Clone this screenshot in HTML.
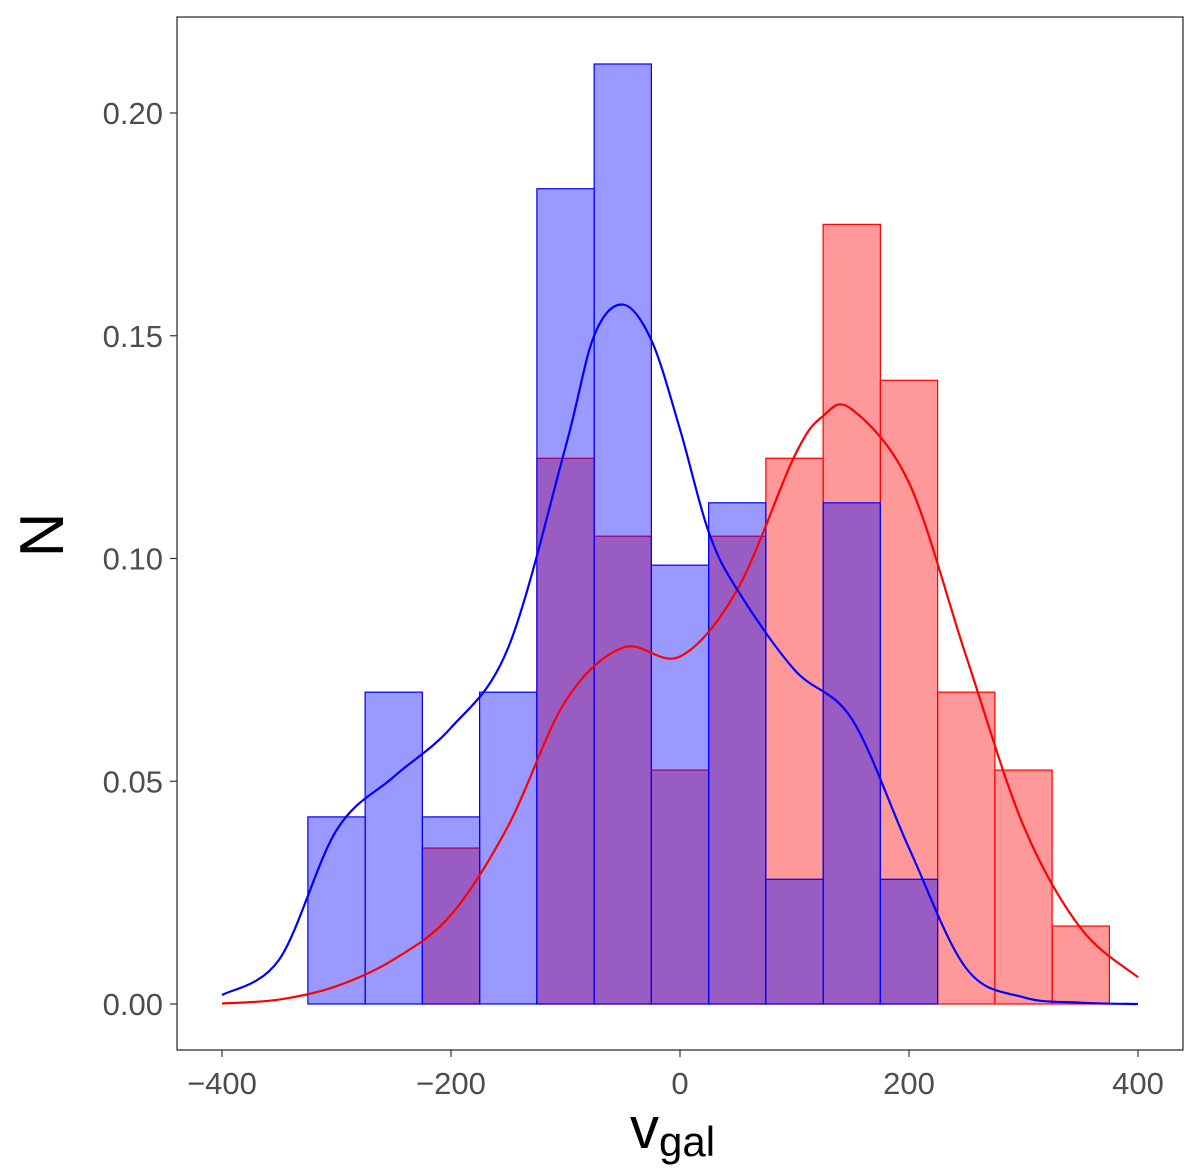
<!DOCTYPE html>
<html><head><meta charset="utf-8"><style>
body{margin:0;background:#fff;}
svg{display:block;font-family:"Liberation Sans",sans-serif;}
</style></head><body>
<svg id="chart" width="1200" height="1172" viewBox="0 0 1200 1172">
<rect x="177" y="17" width="1006" height="1033" fill="#fff" stroke="#222" stroke-width="1.2"/>
<g id="bars"></g><g id="curves"></g><g id="axes"></g>
<text transform="translate(63,535) rotate(-90)" text-anchor="middle" font-size="62">N</text>
<text x="630" y="1148" font-size="58">v<tspan font-size="42" dy="8">gal</tspan></text>
</svg>
<script>
const binCenters=[-300,-250,-200,-150,-100,-50,0,50,100,150,200,250,300,350];
const blueVals=[0.042,0.070,0.042,0.070,0.183,0.211,0.0985,0.1125,0.028,0.1125,0.028,0,0,0];
const redVals=[0,0,0.035,0,0.1225,0.105,0.0525,0.105,0.1225,0.175,0.140,0.070,0.0525,0.0175];
const blueDensX=[-400,-350,-300,-250,-200,-150,-100,-75,-50,-25,0,25,50,100,150,200,250,300,350,400];
const blueDensY=[0.002,0.010,0.039,0.051,0.062,0.080,0.125,0.150,0.157,0.149,0.129,0.106,0.093,0.075,0.064,0.035,0.008,0.0015,0.0003,0];
const redDensX=[-400,-350,-300,-250,-200,-150,-100,-50,0,50,100,125,150,200,250,300,350,400];
const redDensY=[0.0001,0.001,0.004,0.010,0.020,0.040,0.068,0.080,0.078,0.093,0.123,0.132,0.1335,0.117,0.078,0.040,0.017,0.006];
const xTicks=[-400,-200,0,200,400];
const yTicks=[0,0.05,0.10,0.15,0.20];
const yTickLabels=["0.00","0.05","0.10","0.15","0.20"];
const binWidth=50;
const X=v=>680+v*1.145;
const Y=v=>1004-v*4455;
const NS="http://www.w3.org/2000/svg";
const bars=document.getElementById('bars'),curves=document.getElementById('curves'),axes=document.getElementById('axes');
function mk(t,a,p){const e=document.createElementNS(NS,t);for(const k in a)e.setAttribute(k,a[k]);p.appendChild(e);return e;}
function drawBars(vals,fill,stroke,name){
 vals.forEach((v,i)=>{if(v<=0)return;
  const x0=X(binCenters[i]-binWidth/2),x1=X(binCenters[i]+binWidth/2);
  const r=mk('rect',{x:x0,y:Y(v),width:x1-x0,height:Y(0)-Y(v),fill:fill,stroke:stroke,'stroke-width':1.2},bars);
  
  
 });
}
drawBars(redVals,'rgba(255,0,0,0.4)','#ff0000','red-bar');
drawBars(blueVals,'rgba(0,0,255,0.4)','#0000ff','blue-bar');
function smooth(xs,ys){
 const p=xs.map((x,i)=>[X(x),Y(ys[i])]);let d='M'+p[0][0]+','+p[0][1];
 for(let i=0;i<p.length-1;i++){const p0=p[Math.max(0,i-1)],p1=p[i],p2=p[i+1],p3=p[Math.min(p.length-1,i+2)];
  d+=' C'+(p1[0]+(p2[0]-p0[0])/6)+','+(p1[1]+(p2[1]-p0[1])/6)+' '+(p2[0]-(p3[0]-p1[0])/6)+','+(p2[1]-(p3[1]-p1[1])/6)+' '+p2[0]+','+p2[1];}
 return d;}
const rc=mk('path',{d:smooth(redDensX,redDensY),fill:'none',stroke:'#ff0000','stroke-width':2.2},curves);


const bc=mk('path',{d:smooth(blueDensX,blueDensY),fill:'none',stroke:'#0000ff','stroke-width':2.2},curves);


xTicks.forEach(v=>{
 mk('line',{x1:X(v),x2:X(v),y1:1050,y2:1057,stroke:'#333','stroke-width':1.2},axes);
 const t=mk('text',{x:X(v),y:1094,'text-anchor':'middle','font-size':31,fill:'#4d4d4d'},axes);
 t.textContent=(v<0?'\u2212':'')+Math.abs(v);
 
 
});
yTicks.forEach((v,i)=>{
 mk('line',{x1:170,x2:177,y1:Y(v),y2:Y(v),stroke:'#333','stroke-width':1.2},axes);
 const t=mk('text',{x:163,y:Y(v)+11,'text-anchor':'end','font-size':31,fill:'#4d4d4d'},axes);
 t.textContent=yTickLabels[i];
 
 
});
</script>
</body></html>
